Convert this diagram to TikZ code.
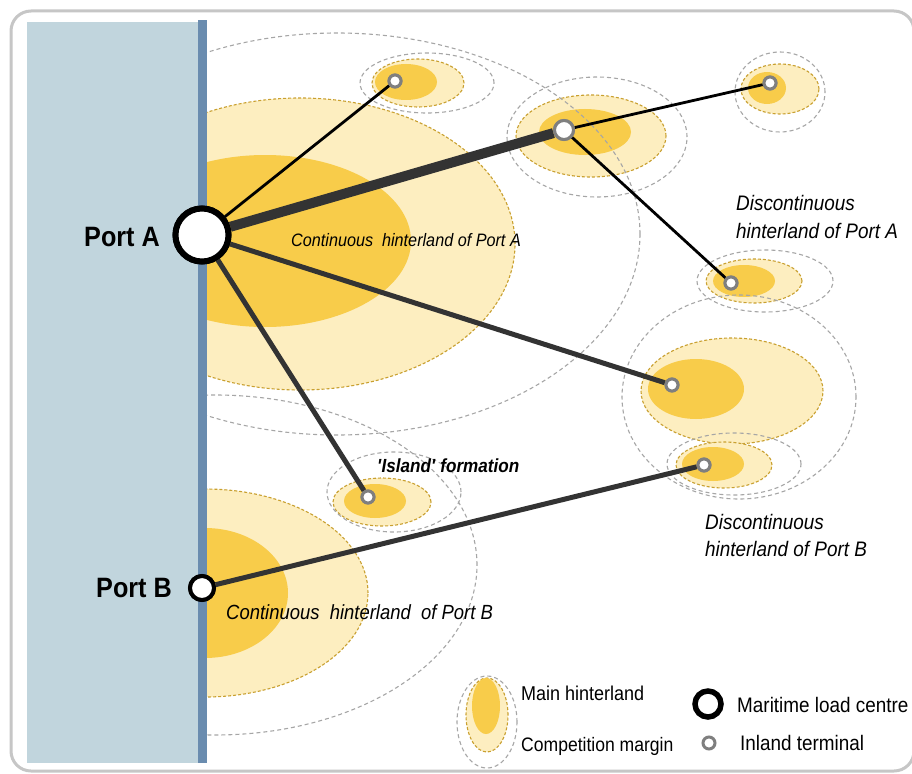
\documentclass[tikz,border=0pt]{standalone}
\usepackage{fontspec}
\setmainfont{Liberation Sans}[FakeStretch=0.9]
\definecolor{lightY}{HTML}{FDEEC0}
\definecolor{darkY}{HTML}{F8CC4A}
\definecolor{goldB}{HTML}{C9A030}
\definecolor{ringG}{HTML}{A6A6A6}
\definecolor{seaC}{HTML}{C1D5DD}
\definecolor{coastC}{HTML}{6A8CAF}
\definecolor{linkC}{HTML}{333333}
\definecolor{termG}{HTML}{7F7F7F}
\definecolor{frameG}{HTML}{C6C6C6}
\begin{document}
\begin{tikzpicture}[x=1pt,y=-1pt,
  ringline/.style={draw=ringG, line width=1.1pt, dash pattern=on 4pt off 3pt},
  marginfill/.style={fill=lightY, draw=goldB, line width=1.1pt, dash pattern=on 3pt off 2pt},
  mainfill/.style={fill=darkY},
  portnode/.style={circle, draw=black, fill=white, inner sep=0pt},
  termnode/.style={circle, draw=termG, fill=white, line width=3pt, inner sep=0pt, minimum size=12pt},
  thinlink/.style={line width=2.8pt, draw=black},
  medlink/.style={line width=5pt, draw=linkC},
  thicklink/.style={line width=10pt, draw=linkC},
  lbl/.style={inner sep=0pt, anchor=west, align=left}
]
\useasboundingbox (0,0) rectangle (912,773);
% frame
\draw[frameG, line width=3pt, fill=white, rounded corners=20pt] (11,11) rectangle (914,771);

\begin{scope}
\clip (198,13) rectangle (910,769);
% margins (light)
\path[marginfill] (300,244) ellipse [x radius=215pt, y radius=146pt];
\path[marginfill] (205,593) ellipse [x radius=163pt, y radius=104pt];
\path[marginfill] (418,83) ellipse [x radius=46pt, y radius=24pt];
\path[marginfill] (591,136) ellipse [x radius=75pt, y radius=41pt];
\path[marginfill] (780,89) ellipse [x radius=39pt, y radius=25pt];
\path[marginfill] (754,281) ellipse [x radius=48pt, y radius=22pt];
\path[marginfill] (732,391) ellipse [x radius=91pt, y radius=53pt];
\path[marginfill] (724,465) ellipse [x radius=48pt, y radius=23pt];
\path[marginfill] (382,502) ellipse [x radius=49pt, y radius=24pt];
\path[marginfill] (487,715) ellipse [x radius=21pt, y radius=37pt];
% main hinterlands (dark)
\path[mainfill] (265,241) ellipse [x radius=146pt, y radius=86pt];
\path[mainfill] (205,593) ellipse [x radius=83pt, y radius=65pt];
\path[mainfill] (406,82) ellipse [x radius=31pt, y radius=18pt];
\path[mainfill] (585,132) ellipse [x radius=46pt, y radius=23pt];
\path[mainfill] (767,88) ellipse [x radius=19pt, y radius=16pt];
\path[mainfill] (744,281) ellipse [x radius=31pt, y radius=16pt];
\path[mainfill] (696,389) ellipse [x radius=48pt, y radius=30pt];
\path[mainfill] (713,464) ellipse [x radius=31pt, y radius=17pt];
\path[mainfill] (375,501) ellipse [x radius=31pt, y radius=17pt];
\path[mainfill] (486,706) ellipse [x radius=14pt, y radius=28pt];
% competition rings
\path[ringline] (337,234) ellipse [x radius=303pt, y radius=201pt];
\path[ringline] (215,565) ellipse [x radius=262pt, y radius=170pt];
\path[ringline] (427,83) ellipse [x radius=67pt, y radius=30pt];
\path[ringline] (597,137) ellipse [x radius=90pt, y radius=60pt];
\path[ringline] (780,92) ellipse [x radius=45pt, y radius=40pt];
\path[ringline] (765,281) ellipse [x radius=68pt, y radius=31pt];
\path[ringline] (739,397) ellipse [x radius=117pt, y radius=102pt];
\path[ringline] (734,464) ellipse [x radius=67pt, y radius=31pt];
\path[ringline] (394,492) ellipse [x radius=67pt, y radius=40pt];
\path[ringline] (487,722) ellipse [x radius=30pt, y radius=46pt];
\end{scope}

% sea and coast
\fill[seaC] (27,22) rectangle (198,763);
\fill[coastC] (198,20) rectangle (207,763);

% nodes
\node[portnode, line width=6pt, minimum size=53pt] (A) at (202,235) {};
\node[portnode, line width=4pt, minimum size=24pt] (B) at (202,588) {};
\node[termnode] (t1) at (395,81) {};
\node[termnode, minimum size=19pt] (t2) at (564,130) {};
\node[termnode] (t3) at (770,83) {};
\node[termnode] (t4) at (731,283) {};
\node[termnode] (t5) at (672,385) {};
\node[termnode] (t6) at (704,465) {};
\node[termnode] (t7) at (368,497) {};

% connectors
\draw[thinlink] (A) -- (t1);
\draw[thicklink] (A) -- (t2);
\draw[thinlink] (t2) -- (t3);
\draw[thinlink] (t2) -- (t4);
\draw[medlink] (A) -- (t5);
\draw[medlink] (A) -- (t7);
\draw[medlink] (B) -- (t6);

% redraw nodes on top
\node[portnode, line width=6pt, minimum size=53pt] at (A) {};
\node[portnode, line width=4pt, minimum size=24pt] at (B) {};
\foreach \t/\s in {t1/12,t2/19,t3/12,t4/12,t5/12,t6/12,t7/12}
  \node[termnode, minimum size=\s pt] at (\t) {};

% labels
\node[inner sep=0pt, anchor=east, font=\bfseries\fontsize{28}{32}\selectfont] (lA) at (160,237) {Port A};
\node[inner sep=0pt, anchor=east, font=\bfseries\fontsize{28}{32}\selectfont] (lB) at (172,588) {Port B};
\node[lbl, font=\itshape\fontsize{18}{22}\selectfont] (cA) at (291,240) {Continuous\ \ hinterland of Port A};
\node[lbl, font=\itshape\fontsize{20.5}{24}\selectfont] (cB) at (226,612) {Continuous\ \ hinterland\ \ of Port B};
\node[lbl, font=\itshape\fontsize{21}{28}\selectfont] (dA) at (736,217) {Discontinuous\\hinterland of Port A};
\node[lbl, font=\itshape\fontsize{21}{27}\selectfont] (dB) at (705,535) {Discontinuous\\hinterland of Port B};
\node[lbl, font=\bfseries\itshape\fontsize{19}{22}\selectfont] (isl) at (377,466) {\textquotesingle Island\textquotesingle\ formation};

% legend
\node[lbl, font=\fontsize{20}{24}\selectfont] (lg1) at (521,693) {Main hinterland};
\node[lbl, font=\fontsize{19.5}{24}\selectfont] (lg2) at (521,746) {Competition margin};
\node[portnode, line width=5.5pt, minimum size=26pt] (lgp) at (708,704) {};
\node[termnode, minimum size=12pt] (lgt) at (709,743) {};
\node[lbl, font=\fontsize{21}{24}\selectfont] (lg3) at (737,705) {Maritime load centre};
\node[lbl, font=\fontsize{21}{24}\selectfont] (lg4) at (740,743) {Inland terminal};
\end{tikzpicture}
\end{document}
